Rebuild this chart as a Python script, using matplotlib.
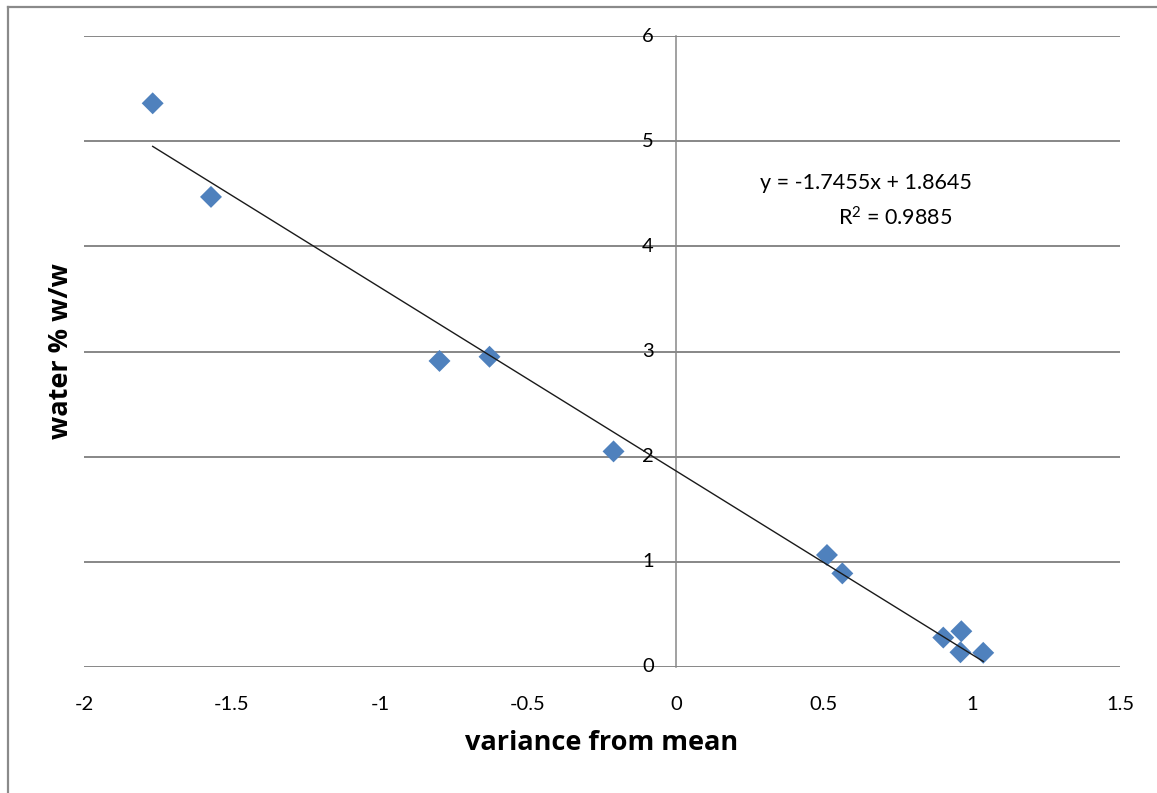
import numpy as np
import matplotlib
matplotlib.use("Agg")
import matplotlib.pyplot as plt
from matplotlib.lines import Line2D

plt.rcParams["font.family"] = ["Lato", "DejaVu Sans"]
plt.rcParams["mathtext.fontset"] = "custom"
plt.rcParams["mathtext.rm"] = "Lato"
plt.rcParams["mathtext.default"] = "regular"

# measurements: deviation from mean vs water content
variance = [-1.768, -1.571, -0.799, -0.630, -0.211, 0.510, 0.562, 0.903, 0.964, 0.961, 1.038]
water = [5.36, 4.47, 2.91, 2.95, 2.05, 1.065, 0.89, 0.28, 0.34, 0.14, 0.135]

# linear trendline
slope, intercept = -1.7455, 1.8645
r_squared = 0.9885

x_ticks = [-2, -1.5, -1, -0.5, 0, 0.5, 1, 1.5]
y_ticks = [0, 1, 2, 3, 4, 5, 6]

W, H = 1157, 793
fig = plt.figure(figsize=(W / 100, H / 100), dpi=100)
ax = fig.add_axes([84 / W, 1 - 667 / H, (1120 - 84) / W, (667 - 36) / H])

grid_col = "#878787"
ax.set_xlim(-2, 1.5)
ax.set_ylim(0, 6)
for y in y_ticks:
    ax.axhline(y, color=grid_col, lw=1.4, zorder=1)

for s in ["top", "right", "bottom"]:
    ax.spines[s].set_visible(False)
ax.spines["left"].set_position(("data", 0))
ax.spines["left"].set_color(grid_col)
ax.spines["left"].set_linewidth(1.1)

ax.set_xticks(x_ticks)
ax.set_xticklabels([f"{t:g}" for t in x_ticks])
ax.set_yticks(y_ticks)
ax.set_yticklabels([f"{t:g}" for t in y_ticks])
ax.tick_params(axis="x", length=0, pad=21, labelsize=14.5)
ax.tick_params(axis="y", length=0, pad=16, labelsize=14.5)
for lbl in ax.get_yticklabels():
    lbl.set_verticalalignment("center")

ax.scatter(variance, water, marker="D", s=125, color="#4F81BD",
           edgecolors="none", zorder=3)

xs = np.array([min(variance), max(variance)])
ax.plot(xs, slope * xs + intercept, color="#1a1a1a", lw=1.0, zorder=4)

sign = "+" if intercept >= 0 else "-"
ax.text(0.64, 4.60, f"y = {slope:.4f}x {sign} {abs(intercept):.4f}",
        ha="center", va="center", fontsize=15.5)
ax.text(0.74, 4.27, f"R$^2$ = {r_squared:.4f}",
        ha="center", va="center", fontsize=15.5)

label_font = dict(family=["Open Sans", "DejaVu Sans"], fontsize=19.5, fontweight="bold")
ax.set_xlabel("variance from mean", labelpad=12, **label_font)
ax.set_ylabel("water % w/w", **label_font)
ax.yaxis.set_label_coords((74 - 84) / (1120 - 84), 0.5)

# outer chart frame (top and left edges)
frame_col = "#8a8a8a"
fig.add_artist(Line2D([8 / W, 1], [1 - 7 / H, 1 - 7 / H], color=frame_col, lw=1.6,
                      transform=fig.transFigure))
fig.add_artist(Line2D([8 / W, 8 / W], [0, 1 - 7 / H], color=frame_col, lw=1.6,
                      transform=fig.transFigure))

fig.savefig("out.png", dpi=100)
